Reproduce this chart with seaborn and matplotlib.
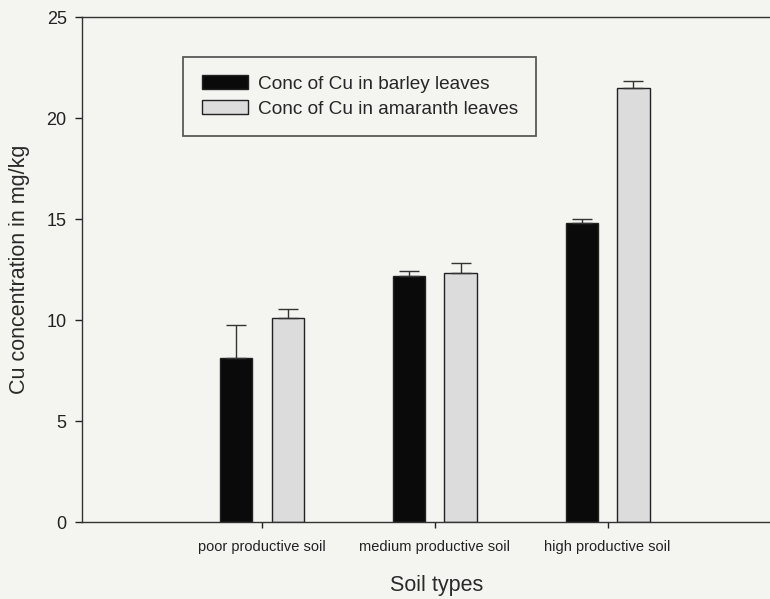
import matplotlib
matplotlib.use("Agg")
import matplotlib.pyplot as plt
import seaborn as sns
import pandas as pd
import numpy as np

soil_types = ["poor productive soil", "medium productive soil", "high productive soil"]
series_names = ["Conc of Cu in barley leaves", "Conc of Cu in amaranth leaves"]
barley = [8.1, 12.2, 14.8]
amaranth = [10.1, 12.35, 21.5]
barley_err = [1.65, 0.25, 0.2]
amaranth_err = [0.45, 0.45, 0.35]

df = pd.DataFrame({
    "soil": soil_types * 2,
    "series": [series_names[0]] * 3 + [series_names[1]] * 3,
    "value": barley + amaranth,
    "err": barley_err + amaranth_err,
})

sns.set_theme(style="white")
plt.rcParams["font.family"] = ["Liberation Sans", "DejaVu Sans"]

bg = "#f4f4f1"
fig = plt.figure(figsize=(7.7, 5.99), dpi=100, facecolor=bg)
ax = fig.add_axes([0.1065, 0.1285, 0.8935, 0.8430])
ax.set_facecolor(bg)

palette = {series_names[0]: "#0a0a0a", series_names[1]: "#dcdcdc"}
sns.barplot(data=df, x="soil", y="value", hue="series", hue_order=series_names,
            order=soil_types, palette=palette, width=0.6, gap=0.38,
            edgecolor="#222222", linewidth=1.0, errorbar=None, ax=ax, saturation=1)

# error bars (upward only) from patch positions
for container, errs in zip(ax.containers, [barley_err, amaranth_err]):
    for patch, e in zip(container.patches, errs):
        xc = patch.get_x() + patch.get_width() / 2
        h = patch.get_height()
        ax.errorbar([xc], [h], yerr=[[0], [e]], fmt="none", ecolor="#333333",
                    elinewidth=1.0, capsize=7, capthick=1.0, zorder=3)

ax.set_xlim(-1.04, 2.94)
ax.set_ylim(0, 25)
ax.set_yticks([0, 5, 10, 15, 20, 25])
ax.tick_params(axis="y", labelsize=13, direction="out", length=5, width=1,
               left=True, colors="#222222", pad=6)
ax.tick_params(axis="x", labelsize=10.5, direction="out", length=4, width=1,
               bottom=True, colors="#222222", pad=9)
ax.set_ylabel("Cu concentration in mg/kg", fontsize=15.5, color="#2a2a2a", labelpad=12)
ax.set_xlabel("Soil types", fontsize=15.5, color="#2a2a2a")
ax.xaxis.set_label_coords(0.515, -0.105)

for s in ["left", "bottom", "top"]:
    ax.spines[s].set_visible(True)
    ax.spines[s].set_color("#333333")
    ax.spines[s].set_linewidth(1.0)
ax.spines["right"].set_visible(False)

leg = ax.legend(loc="upper left", bbox_to_anchor=(0.147, 0.921), fontsize=13.7,
                frameon=True, fancybox=False, edgecolor="#333333",
                handlelength=2.45, handleheight=0.72, borderpad=0.97,
                handletextpad=0.5, labelspacing=0.4, borderaxespad=0)
leg.get_frame().set_linewidth(1.3)
leg.get_frame().set_facecolor(bg)

fig.savefig("out.png", dpi=100, facecolor=bg)
